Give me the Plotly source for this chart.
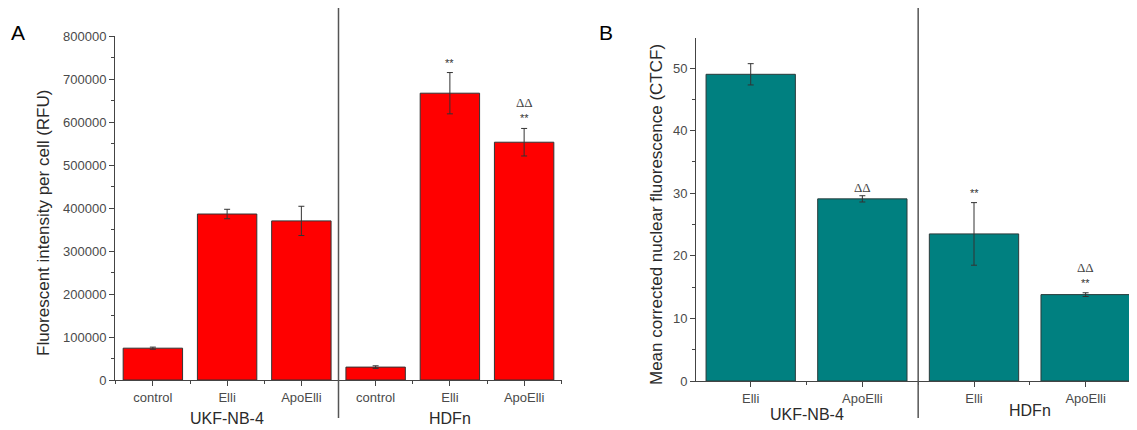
import plotly.graph_objects as go

# page body has an 8px default margin; the figure is sized to fill the rest
OFF = 8
W, H = 1137 - OFF, 430 - OFF

# ---------------- data ----------------
labels_A = ["control", "Elli", "ApoElli", "control", "Elli", "ApoElli"]
values_A = [74000, 386000, 370000, 30000, 667000, 553000]
errors_A = [2500, 11000, 34000, 3000, 48000, 32000]
stars_A = ["", "", "", "", "**", "**"]
deltas_A = ["", "", "", "", "", "ΔΔ"]
groups_A = ["UKF-NB-4", "HDFn"]
yticks_A = [0, 100000, 200000, 300000, 400000, 500000, 600000, 700000, 800000]

labels_B = ["Elli", "ApoElli", "Elli", "ApoElli"]
values_B = [49.0, 29.1, 23.5, 13.8]
errors_B = [1.7, 0.5, 5.0, 0.3]
stars_B = ["", "", "**", "**"]
deltas_B = ["", "ΔΔ", "", "ΔΔ"]
groups_B = ["UKF-NB-4", "HDFn"]
yticks_B = [0, 10, 20, 30, 40, 50]

FONT = "Liberation Sans, Arial, sans-serif"
TICK_C = "#4a4a4a"
AX_C = "#444444"

xA = list(range(len(labels_A)))
xB = list(range(len(labels_B)))

fig = go.Figure()
fig.add_trace(go.Bar(
    x=xA, y=values_A, width=0.8, xaxis="x", yaxis="y",
    marker=dict(color="#ff0000", line=dict(color="#333333", width=1)),
    error_y=dict(type="data", array=errors_A, color="#333333", thickness=1, width=3),
    showlegend=False,
))
fig.add_trace(go.Bar(
    x=xB, y=values_B, width=0.8, xaxis="x2", yaxis="y2",
    marker=dict(color="#008080", line=dict(color="#2a3a3a", width=1)),
    error_y=dict(type="data", array=errors_B, color="#333333", thickness=1, width=3),
    showlegend=False,
))

def px(v):
    return (v - OFF) / W

def py(v):
    return 1 - (v - OFF) / H

common_x = dict(showline=True, linecolor=AX_C, linewidth=1, ticks="outside", ticklen=5,
                tickcolor=AX_C, showgrid=False, zeroline=False, automargin=False,
                tickfont=dict(family=FONT, size=13, color=TICK_C),
                minor=dict(tickmode="linear", tick0=0.5, dtick=1, ticks="outside", ticklen=3, tickcolor=AX_C))
common_y = dict(showline=True, linecolor=AX_C, linewidth=1, ticks="outside", ticklen=5,
                tickcolor=AX_C, showgrid=False, zeroline=False, automargin=False,
                tickfont=dict(family=FONT, size=13, color=TICK_C))

fig.update_layout(
    width=W, height=H,
    margin=dict(l=0, r=0, t=0, b=0, pad=0),
    paper_bgcolor="white", plot_bgcolor="white",
    bargap=0.2,
    xaxis=dict(domain=[px(115), px(562)], range=[-0.51, 5.51], anchor="y",
               tickmode="array", tickvals=xA, ticktext=labels_A, **common_x),
    yaxis=dict(domain=[py(380), py(36)], range=[0, 800000], anchor="x",
               tickmode="array", tickvals=yticks_A, ticktext=[str(v) for v in yticks_A],
               minor=dict(tickmode="linear", tick0=50000, dtick=100000, ticks="outside", ticklen=3, tickcolor=AX_C),
               **common_y),
    xaxis2=dict(domain=[px(696), 1.0], range=[-0.49, 3.46], anchor="y2",
                tickmode="array", tickvals=xB, ticktext=labels_B, **common_x),
    yaxis2=dict(domain=[py(381), py(38)], range=[0, 54.8], anchor="x2",
                tickmode="array", tickvals=yticks_B, ticktext=[str(v) for v in yticks_B],
                minor=dict(tickmode="linear", tick0=5, dtick=10, ticks="outside", ticklen=3, tickcolor=AX_C),
                **common_y),
)

def label(text, xr, x, y, size, color="#2a2a2a", angle=0, family=FONT):
    return dict(text=text, xref=xr, yref="paper", x=x, y=y, textangle=angle,
                xanchor="center", yanchor="middle", showarrow=False,
                font=dict(family=family, size=size, color=color))

ann = []
# axis titles
ann.append(label("Fluorescent intensity per cell (RFU)", "paper", px(43), py(223), 17, angle=-90))
ann.append(label("Mean corrected nuclear fluorescence (CTCF)", "paper", px(656), py(215), 17, angle=-90))
# panel letters
ann.append(label("A", "paper", px(18), py(32), 21, color="black"))
ann.append(label("B", "paper", px(606), py(32), 21, color="black"))
# group labels
ann.append(label(groups_A[0], "x", 1, py(418), 16))
ann.append(label(groups_A[1], "x", 4, py(418), 16))
ann.append(label(groups_B[0], "x2", 0.5, py(414), 16))
ann.append(label(groups_B[1], "x2", 2.5, py(410), 16))

def sig(xs, vals, errs, stars, deltas, xr, yr):
    out = []
    for x, v, e, s, d in zip(xs, vals, errs, stars, deltas):
        top = v + e
        shift = 0
        if s:
            out.append(dict(text=s, xref=xr, yref=yr, x=x, y=top, xanchor="center", yanchor="bottom",
                            yshift=3, showarrow=False, borderpad=0,
                            font=dict(family=FONT, size=11, color="#333333")))
            shift = 17
        if d:
            out.append(dict(text=d, xref=xr, yref=yr, x=x, y=top, xanchor="center", yanchor="bottom",
                            yshift=shift, showarrow=False, borderpad=0,
                            font=dict(family="Liberation Serif, serif", size=13, color="#444444")))
    return out

ann += sig(xA, values_A, errors_A, stars_A, deltas_A, "x", "y")
ann += sig(xB, values_B, errors_B, stars_B, deltas_B, "x2", "y2")
fig.update_layout(annotations=ann)

# group dividers
fig.add_shape(type="line", xref="x", yref="paper", x0=2.5, x1=2.5, y0=py(418), y1=py(8),
              line=dict(color="#555555", width=1.5))
fig.add_shape(type="line", xref="x2", yref="paper", x0=1.5, x1=1.5, y0=py(418), y1=py(8),
              line=dict(color="#555555", width=1.5))

fig.write_html("out.html")
